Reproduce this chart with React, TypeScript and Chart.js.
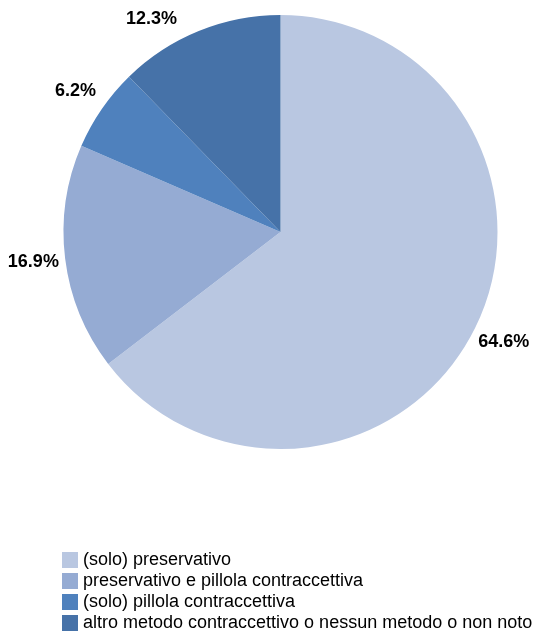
import React, { useEffect, useRef } from "react";
import { Chart, registerables } from "chart.js";

Chart.register(...registerables);

const categories = [
  "(solo) preservativo",
  "preservativo e pillola contraccettiva",
  "(solo) pillola contraccettiva",
  "altro metodo contraccettivo o nessun metodo o non noto",
];
const values = [64.6, 16.9, 6.2, 12.3];
const valueLabels = ["64.6%", "16.9%", "6.2%", "12.3%"];
const colors = ["#B9C7E1", "#95ABD3", "#4F81BD", "#4672A8"];

const FONT = '"Liberation Sans", Arial, sans-serif';

const labelPlugin = {
  id: "outsideLabels",
  afterDatasetsDraw(chart: any) {
    const ctx = chart.ctx;
    const meta = chart.getDatasetMeta(0);
    ctx.save();
    ctx.font = `bold 18px ${FONT}`;
    ctx.fillStyle = "#000";
    ctx.textAlign = "center";
    ctx.textBaseline = "middle";
    meta.data.forEach((arc: any, i: number) => {
      const { x, y, startAngle, endAngle, outerRadius } = arc.getProps(
        ["x", "y", "startAngle", "endAngle", "outerRadius"],
        true
      );
      const mid = (startAngle + endAngle) / 2;
      const R = outerRadius + 32;
      let lx = x + R * Math.cos(mid);
      let ly = y + R * Math.sin(mid);
      const minY = 19;
      if (ly < minY) {
        ly = minY;
        const dy = ly - y;
        lx = x + Math.sign(Math.cos(mid)) * Math.sqrt(Math.max(0, R * R - dy * dy));
      }
      ctx.fillText(valueLabels[i], lx, ly);
    });
    ctx.restore();
  },
};

const legendPlugin = {
  id: "customLegend",
  afterDraw(chart: any) {
    const ctx = chart.ctx;
    ctx.save();
    ctx.font = `18px ${FONT}`;
    ctx.textBaseline = "middle";
    ctx.textAlign = "left";
    const bx = 62;
    const top = 552;
    const step = 21;
    const size = 16;
    categories.forEach((c, i) => {
      const yy = top + i * step;
      ctx.fillStyle = colors[i];
      ctx.fillRect(bx, yy, size, size);
      ctx.fillStyle = "#000";
      ctx.fillText(c, bx + 21, yy + size / 2 + 0.5);
    });
    ctx.restore();
  },
};

export default function App() {
  const ref = useRef<HTMLCanvasElement>(null);
  useEffect(() => {
    if (!ref.current) return;
    const chart = new Chart(ref.current, {
      type: "pie",
      data: {
        labels: categories,
        datasets: [
          {
            data: values,
            backgroundColor: colors,
            borderWidth: 0,
          },
        ],
      },
      options: {
        responsive: false,
        animation: false,
        devicePixelRatio: 1,
        layout: { padding: { left: 63.5, top: 15, right: 58.5, bottom: 182 } },
        plugins: {
          legend: { display: false },
          tooltip: { enabled: false },
        },
      },
      plugins: [labelPlugin, legendPlugin],
    });
    return () => chart.destroy();
  }, []);
  return (
    <div style={{ position: "absolute", left: 0, top: 0, width: 556, height: 631, background: "#fff" }}>
      <canvas ref={ref} width={556} height={631} style={{ display: "block" }} />
    </div>
  );
}
